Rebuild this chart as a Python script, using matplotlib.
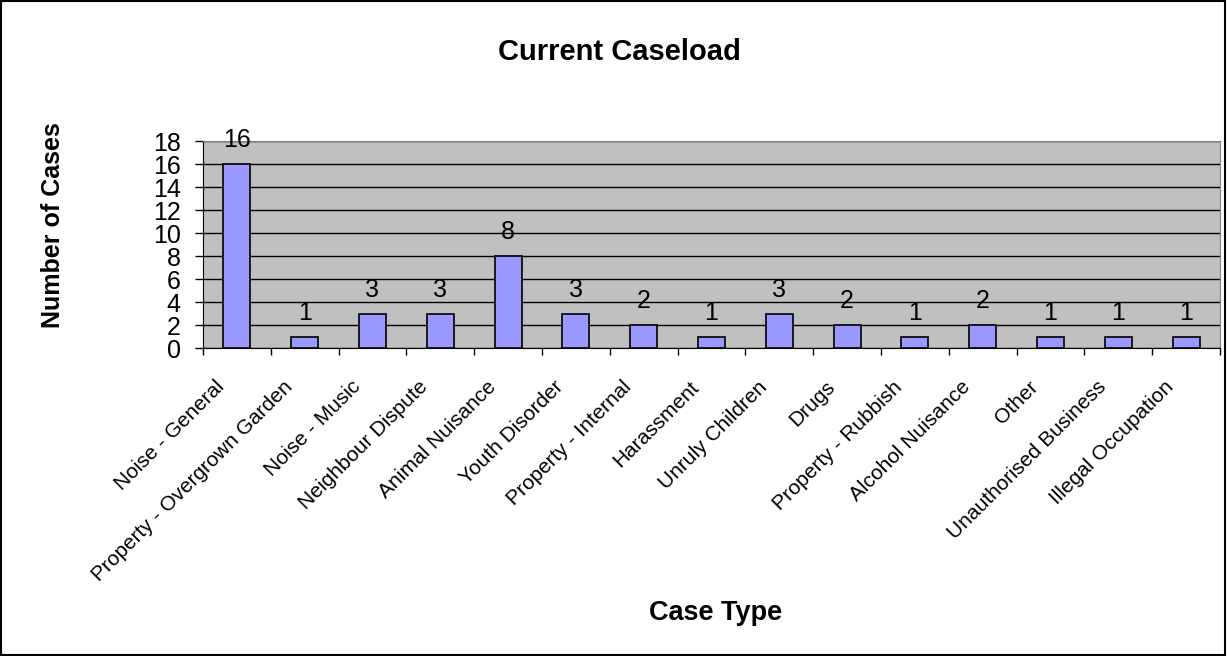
import numpy as np
import matplotlib.pyplot as plt
from matplotlib.patches import Rectangle

plt.rcParams['font.family'] = ['Liberation Sans', 'DejaVu Sans']

case_types = ['Noise - General', 'Property - Overgrown Garden', 'Noise - Music',
              'Neighbour Dispute', 'Animal Nuisance', 'Youth Disorder',
              'Property - Internal', 'Harassment', 'Unruly Children', 'Drugs',
              'Property - Rubbish', 'Alcohol Nuisance', 'Other',
              'Unauthorised Business', 'Illegal Occupation']
cases = [16, 1, 3, 3, 8, 3, 2, 1, 3, 2, 1, 2, 1, 1, 1]
y_ticks = list(range(0, 19, 2))

fig = plt.figure(figsize=(12.27, 6.56), dpi=100)
fig.patches.append(Rectangle((0.001, 0.001), 0.997, 0.997, transform=fig.transFigure,
                             fill=False, edgecolor='black', linewidth=1.5))
ax = fig.add_axes([0.1654, 0.4695, 0.8289, 0.3155])
ax.set_facecolor('#C0C0C0')

x = np.arange(len(cases))
ax.bar(x, cases, width=0.4, color='#9999FF', edgecolor='black', linewidth=1.2, zorder=3)
for xi, v in zip(x, cases):
    ax.annotate(str(v), xy=(xi, v), xytext=(0, 12), textcoords='offset points',
                ha='center', va='baseline', fontsize=18, zorder=4)

ax.set_xlim(-0.5, len(cases) - 0.5)
ax.set_ylim(0, 18)
ax.set_yticks(y_ticks)
ax.tick_params(axis='y', labelsize=18, length=6, width=1, pad=10)
ax.yaxis.grid(True, color='black', linewidth=1, zorder=0)
ax.set_axisbelow(True)

# category boundaries get the ticks, names hang off the centres
ax.set_xticks(np.arange(-0.5, len(cases), 1.0))
ax.set_xticklabels([])
ax.tick_params(axis='x', length=5, width=1)
for xi, lab in zip(x, case_types):
    ax.annotate(lab, xy=(xi, 0), xycoords=('data', 'axes fraction'),
                xytext=(-11, -26), textcoords='offset points',
                ha='right', va='center', rotation=45, rotation_mode='anchor', fontsize=15)

for s in ['top', 'right']:
    ax.spines[s].set_color('#808080')
for s in ['left', 'bottom']:
    ax.spines[s].set_color('black')

fig.text(0.505, 0.921, 'Current Caseload', ha='center', va='center', fontsize=21, fontweight='bold')
fig.text(0.043, 0.657, 'Number of Cases', ha='center', va='center', rotation=90,
         fontsize=18, fontweight='bold')
fig.text(0.583, 0.0655, 'Case Type', ha='center', va='center', fontsize=19.5, fontweight='bold')

fig.savefig('out.png', dpi=100)
